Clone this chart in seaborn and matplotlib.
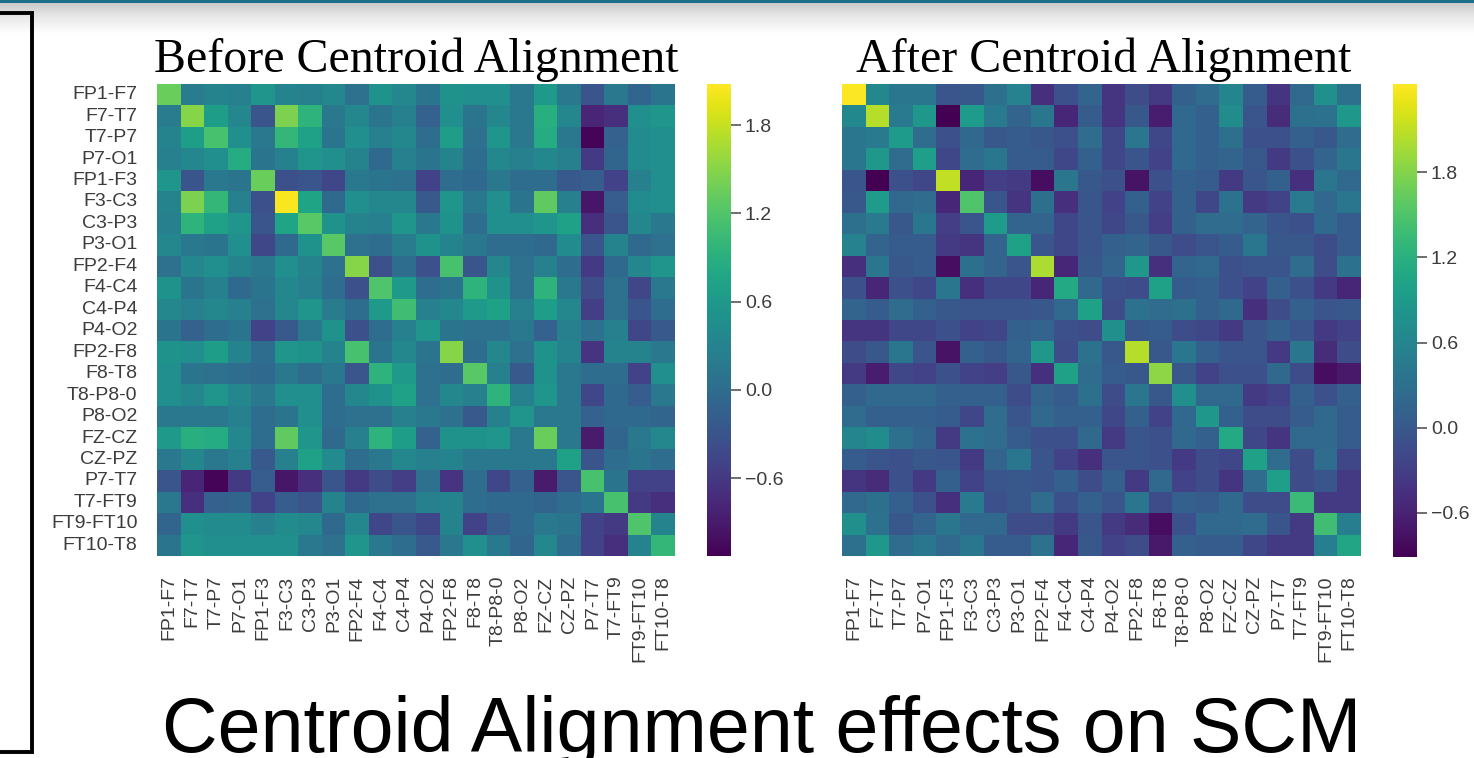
import numpy as np
import pandas as pd
import matplotlib
matplotlib.use("Agg")
import matplotlib.pyplot as plt
from matplotlib.lines import Line2D
import seaborn as sns

channels = ["FP1-F7", "F7-T7", "T7-P7", "P7-O1", "FP1-F3", "F3-C3", "C3-P3", "P3-O1",
            "FP2-F4", "F4-C4", "C4-P4", "P4-O2", "FP2-F8", "F8-T8", "T8-P8-0", "P8-O2",
            "FZ-CZ", "CZ-PZ", "P7-T7", "T7-FT9", "FT9-FT10", "FT10-T8"]

scm_before = [
    [1.35, 0.2, 0.3, 0.25, 0.55, 0.3, 0.25, 0.35, 0.05, 0.5, 0.35, 0.1, 0.5, 0.45, 0.45, 0.15, 0.6, 0.15, -0.3, 0.15, -0.1, 0.1],
    [0.2, 1.5, 0.65, 0.35, -0.3, 1.45, 0.95, 0.15, 0.35, 0.1, 0.25, -0.15, 0.45, 0.1, 0.35, 0.15, 0.9, 0.35, -0.8, -0.7, 0.45, 0.55],
    [0.3, 0.65, 1.15, 0.45, 0.15, 1.0, 0.7, 0.1, 0.45, 0.25, 0.35, 0.0, 0.65, 0.05, 0.55, 0.15, 0.85, 0.15, -1.1, -0.15, 0.4, 0.45],
    [0.25, 0.35, 0.45, 0.85, 0.1, 0.25, 0.55, 0.45, 0.3, -0.05, 0.25, 0.1, 0.3, 0.0, 0.35, 0.25, 0.35, 0.25, -0.6, -0.1, 0.4, 0.45],
    [0.55, -0.3, 0.15, 0.1, 1.35, -0.35, -0.3, -0.45, 0.15, 0.1, 0.05, -0.5, 0.0, -0.05, 0.15, 0.0, 0.0, -0.25, -0.2, -0.5, 0.25, 0.45],
    [0.3, 1.45, 1.0, 0.25, -0.35, 2.05, 0.75, -0.05, 0.45, 0.35, 0.35, -0.25, 0.55, 0.15, 0.45, 0.1, 1.3, 0.25, -0.95, -0.2, 0.4, 0.45],
    [0.25, 0.95, 0.7, 0.55, -0.3, 0.75, 1.25, 0.5, 0.3, 0.25, 0.55, 0.15, 0.5, 0.0, 0.45, 0.45, 0.55, 0.7, -0.7, -0.3, 0.35, 0.15],
    [0.35, 0.15, 0.1, 0.45, -0.45, -0.05, 0.5, 1.25, 0.05, 0.0, 0.2, 0.5, 0.3, 0.15, 0.0, 0.0, -0.05, 0.4, -0.3, 0.3, -0.05, 0.05],
    [0.05, 0.35, 0.45, 0.3, 0.15, 0.45, 0.3, 0.05, 1.5, -0.35, 0.0, -0.35, 1.15, -0.3, 0.35, 0.05, 0.25, 0.0, -0.6, -0.05, 0.35, 0.55],
    [0.5, 0.1, 0.25, -0.05, 0.1, 0.35, 0.25, 0.0, -0.35, 1.2, 0.6, 0.0, 0.1, 0.95, 0.5, 0.05, 0.95, 0.15, -0.4, 0.05, -0.45, 0.15],
    [0.35, 0.25, 0.35, 0.25, 0.05, 0.35, 0.55, 0.2, 0.0, 0.6, 1.1, 0.25, 0.35, 0.6, 0.7, 0.25, 0.65, 0.35, -0.55, 0.05, -0.3, 0.0],
    [0.1, -0.15, 0.0, 0.1, -0.5, -0.25, 0.15, 0.5, -0.35, 0.0, 0.25, 0.55, 0.1, 0.05, 0.05, 0.15, -0.15, 0.25, 0.05, 0.25, -0.45, -0.25],
    [0.5, 0.45, 0.65, 0.3, 0.0, 0.55, 0.5, 0.3, 1.15, 0.1, 0.35, 0.1, 1.5, 0.0, 0.35, 0.05, 0.5, 0.3, -0.65, 0.3, 0.3, 0.15],
    [0.45, 0.1, 0.05, 0.0, -0.05, 0.15, 0.0, 0.15, -0.3, 0.95, 0.6, 0.05, 0.0, 1.25, 0.25, -0.25, 0.5, 0.15, 0.0, 0.0, -0.5, 0.45],
    [0.45, 0.35, 0.55, 0.35, 0.15, 0.45, 0.45, 0.0, 0.35, 0.5, 0.7, 0.05, 0.35, 0.25, 0.95, 0.25, 0.55, 0.15, -0.45, -0.05, -0.2, 0.15],
    [0.15, 0.15, 0.15, 0.25, 0.0, 0.1, 0.45, 0.0, 0.05, 0.05, 0.25, 0.15, 0.05, -0.25, 0.25, 0.55, 0.15, 0.15, -0.15, -0.05, -0.05, -0.1],
    [0.6, 0.9, 0.85, 0.35, 0.0, 1.3, 0.55, -0.05, 0.25, 0.95, 0.65, -0.15, 0.5, 0.5, 0.55, 0.15, 1.35, 0.15, -0.9, -0.1, 0.15, 0.35],
    [0.15, 0.35, 0.15, 0.25, -0.25, 0.25, 0.7, 0.4, 0.0, 0.15, 0.35, 0.25, 0.3, 0.15, 0.15, 0.15, 0.15, 0.7, -0.3, 0.0, 0.1, 0.0],
    [-0.3, -0.8, -1.1, -0.6, -0.2, -0.95, -0.7, -0.3, -0.6, -0.4, -0.55, 0.05, -0.65, 0.0, -0.45, -0.15, -0.9, -0.3, 1.15, 0.1, -0.5, -0.5],
    [0.15, -0.7, -0.15, -0.1, -0.5, -0.2, -0.3, 0.3, -0.05, 0.05, 0.05, 0.25, 0.3, 0.0, -0.05, -0.05, -0.1, 0.0, 0.1, 1.15, -0.6, -0.7],
    [-0.1, 0.45, 0.4, 0.4, 0.25, 0.4, 0.35, -0.05, 0.35, -0.45, -0.3, -0.45, 0.3, -0.5, -0.2, -0.05, 0.15, 0.1, -0.5, -0.6, 1.2, 0.3],
    [0.1, 0.55, 0.45, 0.45, 0.45, 0.45, 0.15, 0.05, 0.55, 0.15, 0.0, -0.25, 0.15, 0.45, 0.15, -0.1, 0.35, 0.0, -0.5, -0.7, 0.3, 1.0],
]

scm_after = [
    [2.4, 0.65, 0.4, 0.4, -0.05, 0.0, 0.3, 0.55, -0.45, -0.1, 0.15, -0.4, -0.15, -0.35, 0.1, 0.25, 0.6, 0.05, -0.4, 0.2, 0.75, 0.3],
    [0.65, 2.05, 0.45, 0.85, -0.9, 0.9, 0.45, 0.15, 0.4, -0.55, 0.05, -0.4, 0.0, -0.65, 0.2, 0.1, 0.7, -0.05, -0.5, 0.3, 0.35, 0.85],
    [0.4, 0.45, 0.9, 0.25, -0.1, 0.2, 0.0, 0.05, 0.0, -0.1, 0.25, -0.2, 0.4, -0.2, 0.2, 0.1, 0.3, -0.1, -0.1, 0.1, 0.0, 0.25],
    [0.4, 0.85, 0.25, 0.95, -0.2, 0.25, 0.4, 0.05, 0.05, -0.2, 0.1, -0.2, -0.05, -0.25, 0.2, 0.1, 0.15, 0.0, -0.35, -0.1, 0.15, 0.4],
    [-0.05, -0.9, -0.1, -0.2, 2.1, -0.55, -0.3, -0.35, -0.8, 0.4, 0.0, -0.1, -0.75, -0.1, 0.1, 0.05, -0.35, -0.05, 0.1, -0.45, 0.4, 0.2],
    [0.0, 0.9, 0.2, 0.25, -0.55, 1.5, -0.05, -0.4, 0.3, -0.45, -0.05, -0.25, 0.1, -0.25, 0.1, -0.2, 0.35, -0.35, -0.25, 0.45, 0.2, 0.4],
    [0.3, 0.45, 0.0, 0.4, -0.3, -0.05, 0.9, 0.15, 0.15, -0.2, -0.05, -0.2, 0.0, -0.3, 0.1, 0.25, 0.25, 0.15, -0.05, -0.1, 0.2, 0.05],
    [0.55, 0.15, 0.05, 0.05, -0.35, -0.4, 0.15, 1.0, -0.05, -0.2, -0.05, 0.1, 0.15, 0.0, -0.15, -0.05, 0.05, 0.4, 0.0, 0.0, -0.15, 0.05],
    [-0.45, 0.4, 0.0, 0.05, -0.8, 0.3, 0.15, -0.05, 2.0, -0.55, 0.0, 0.15, 0.85, -0.45, 0.15, 0.2, -0.1, -0.05, -0.05, 0.25, -0.15, 0.35],
    [-0.1, -0.55, -0.1, -0.2, 0.4, -0.45, -0.2, -0.2, -0.55, 1.1, 0.2, -0.1, -0.15, 1.0, 0.05, 0.1, -0.1, -0.25, 0.1, -0.1, -0.35, -0.55],
    [0.15, 0.05, 0.25, 0.1, 0.0, -0.05, -0.05, -0.05, 0.0, 0.2, 1.0, -0.15, 0.35, 0.25, 0.3, 0.1, 0.2, -0.45, -0.15, 0.1, -0.05, 0.0],
    [-0.4, -0.4, -0.2, -0.2, -0.1, -0.25, -0.2, 0.1, 0.15, -0.1, -0.15, 0.75, 0.0, 0.05, -0.15, -0.2, -0.35, -0.05, 0.1, -0.05, -0.35, -0.25],
    [-0.15, 0.0, 0.4, -0.05, -0.75, 0.1, 0.0, 0.15, 0.85, -0.15, 0.35, 0.0, 2.05, 0.0, 0.4, 0.1, -0.05, -0.05, -0.35, 0.4, -0.5, -0.15],
    [-0.35, -0.65, -0.2, -0.25, -0.1, -0.25, -0.3, 0.0, -0.45, 1.0, 0.25, 0.05, 0.0, 1.85, 0.0, -0.25, -0.1, -0.1, 0.2, -0.15, -0.8, -0.7],
    [0.1, 0.2, 0.2, 0.2, 0.1, 0.1, 0.1, -0.15, 0.15, 0.05, 0.3, -0.15, 0.4, 0.0, 0.75, 0.2, 0.2, -0.35, -0.25, 0.1, -0.1, 0.1],
    [0.25, 0.1, 0.1, 0.1, 0.05, -0.2, 0.25, -0.05, 0.2, 0.1, 0.1, -0.2, 0.1, -0.25, 0.2, 0.85, 0.1, -0.15, -0.15, 0.05, 0.2, 0.05],
    [0.6, 0.7, 0.3, 0.15, -0.35, 0.35, 0.25, 0.05, -0.1, -0.1, 0.2, -0.35, -0.05, -0.1, 0.2, 0.1, 1.1, -0.2, -0.4, 0.2, 0.2, 0.05],
    [0.05, -0.05, -0.1, 0.0, -0.05, -0.35, 0.15, 0.4, -0.05, -0.25, -0.45, -0.05, -0.05, -0.1, -0.35, -0.15, -0.2, 1.0, 0.25, -0.15, 0.25, -0.2],
    [-0.4, -0.5, -0.1, -0.35, 0.1, -0.25, -0.05, 0.0, -0.05, 0.1, -0.15, 0.1, -0.35, 0.2, -0.25, -0.15, -0.4, 0.25, 0.95, -0.15, -0.05, -0.35],
    [0.2, 0.3, 0.1, -0.1, -0.45, 0.45, -0.1, 0.0, 0.25, -0.1, 0.1, -0.05, 0.4, -0.15, 0.1, 0.05, 0.2, -0.15, -0.15, 1.35, -0.35, -0.35],
    [0.75, 0.35, 0.0, 0.15, 0.4, 0.2, 0.2, -0.15, -0.15, -0.35, -0.05, -0.35, -0.5, -0.8, -0.1, 0.2, 0.2, 0.25, -0.05, -0.35, 1.4, 0.5],
    [0.3, 0.85, 0.25, 0.4, 0.2, 0.4, 0.05, 0.05, 0.35, -0.55, 0.0, -0.25, -0.15, -0.7, 0.1, 0.05, 0.05, -0.2, -0.35, -0.35, 0.5, 1.05],
]

cbar_ticks = [-0.6, 0.0, 0.6, 1.2, 1.8]
titles = ["Before Centroid Alignment", "After Centroid Alignment"]
main_title = "Centroid Alignment effects on SCM"

W, H = 1474, 758
fig = plt.figure(figsize=(W / 100, H / 100), dpi=100)
fig.patch.set_facecolor("white")


def px_axes(x0, y0, x1, y1):
    return fig.add_axes([x0 / W, 1 - y1 / H, (x1 - x0) / W, (y1 - y0) / H])


# top band: thin teal rule plus soft grey shadow
band = px_axes(0, 0, W, 34)
grad = np.linspace(0, 1, 64).reshape(-1, 1)
band.imshow(grad, aspect="auto", cmap=matplotlib.colors.LinearSegmentedColormap.from_list(
    "shade", ["#c4c4c4", "#e9e9e9", "#ffffff"]), extent=[0, 1, 0, 1])
band.set_axis_off()
rule = px_axes(0, 0, W, 3)
rule.set_facecolor("#1f6f8b")
rule.set_xticks([]); rule.set_yticks([])
for s in rule.spines.values():
    s.set_visible(False)


def fx(x):
    return x / W


def fy(y):
    return 1 - y / H


# bracket on the left
fig.add_artist(Line2D([fx(0), fx(32), fx(32), fx(0)], [fy(13), fy(13), fy(752), fy(752)],
                      transform=fig.transFigure, color="black", lw=2.8, solid_joinstyle="miter"))

tick_color = "#3c3c3c"
label_font = "Liberation Sans"

specs = [
    (scm_before, (157, 84, 675, 556), (707, 84, 731, 556), -1.13, 2.08, True, 416),
    (scm_after, (842, 84, 1361, 556), (1393, 84, 1417, 557), -0.91, 2.42, False, 1104),
]

for (mat, hbox, cbox, vmin, vmax, show_y, tx), title in zip(specs, titles):
    ax = px_axes(*hbox)
    cax = px_axes(*cbox)
    df = pd.DataFrame(mat, index=channels, columns=channels)
    sns.heatmap(df, ax=ax, cbar_ax=cax, cmap="viridis", vmin=vmin, vmax=vmax,
                xticklabels=True, yticklabels=show_y,
                cbar_kws={"ticks": cbar_ticks})
    ax.tick_params(axis="both", length=0, pad=14, labelsize=14, labelcolor=tick_color)
    ax.set_xticklabels(channels, rotation=90, fontfamily=label_font)
    if show_y:
        ax.set_yticklabels(channels, rotation=0, fontfamily=label_font)
    else:
        ax.set_yticks([])
    ax.set_xlabel(""); ax.set_ylabel("")
    cax.tick_params(length=7, width=1.2, color="#555555", labelsize=14, pad=3, labelcolor=tick_color)
    for lab in cax.get_yticklabels():
        lab.set_fontfamily(label_font)
    fig.text(tx / W, 1 - 72 / H, title, ha="center", va="baseline",
             fontsize=34.5, fontfamily="Liberation Serif", color="black")

fig.text(762 / W, 1 - 752 / H, main_title, ha="center", va="baseline",
         fontsize=55.5, fontfamily="Liberation Sans", color="black")

fig.savefig("out.png", dpi=100, facecolor="white")
